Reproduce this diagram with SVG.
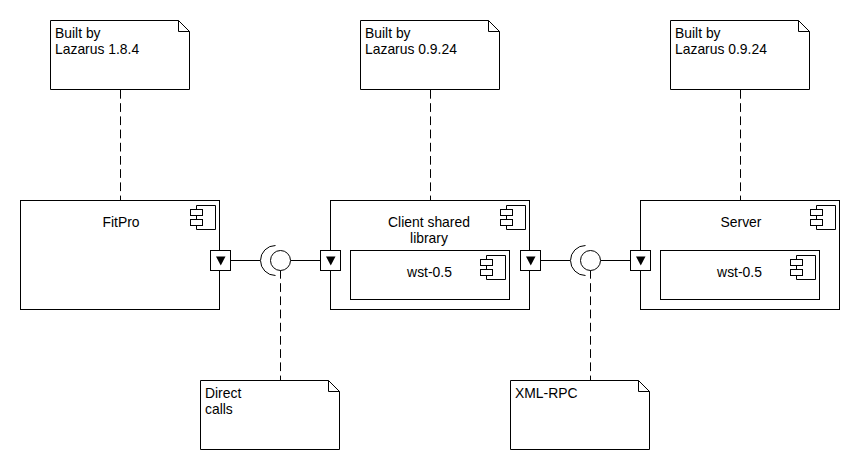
<svg xmlns="http://www.w3.org/2000/svg" width="860" height="470" viewBox="0 0 860 470">
<style>
.s{fill:#fff;stroke:#000;stroke-width:1}
.l{fill:none;stroke:#000;stroke-width:1}
.d{fill:none;stroke:#000;stroke-width:1;stroke-dasharray:8.700 4.500}
.t{font-family:"Liberation Sans",Arial,sans-serif;font-size:13.900px;fill:#000}
.m{text-anchor:middle}
</style>
<defs>
<g id="icon"><path class="s" d="M6 0H25V24H6Z"/><rect class="s" x="0" y="4" width="12" height="6"/><rect class="s" x="0" y="14" width="12" height="6"/></g>
<g id="port"><rect class="s" width="20" height="20"/><path d="M5.500 6H15L10.250 15Z" fill="#000"/></g>
<g id="note"><path class="s" d="M0 0H128L139 11V69H0Z"/><path class="l" d="M128 0V11H139"/></g>
</defs>
<rect width="860" height="470" fill="#fff"/>
<g id="connectors">
<path class="d" d="M120.500 90V200"/>
<path class="d" d="M430.500 90V200"/>
<path class="d" d="M740.500 90V200"/>
<path class="d" d="M280.500 270V380"/>
<path class="d" d="M590.500 270V380"/>
<path class="l" d="M230.500 260.500H260M290.500 260.500H320.500"/>
<path class="l" d="M540.500 260.500H570M600.500 260.500H630.500"/>
</g>
<g id="note-fitpro"><use href="#note" x="50.500" y="20.500"/><text class="t" x="55" y="38">Built by</text><text class="t" x="55" y="54">Lazarus 1.8.4</text></g>
<g id="note-client"><use href="#note" x="360.500" y="20.500"/><text class="t" x="365" y="38">Built by</text><text class="t" x="365" y="54">Lazarus 0.9.24</text></g>
<g id="note-server"><use href="#note" x="670.500" y="20.500"/><text class="t" x="675" y="38">Built by</text><text class="t" x="675" y="54">Lazarus 0.9.24</text></g>
<g id="fitpro"><rect class="s" x="20.500" y="200.500" width="199" height="109"/><use href="#icon" x="190.500" y="205.500"/><text class="t m" x="121" y="227">FitPro</text></g>
<g id="client"><rect class="s" x="330.500" y="200.500" width="199" height="109"/><use href="#icon" x="500.500" y="205.500"/><text class="t m" x="429" y="227">Client shared</text><text class="t m" x="429" y="243">library</text></g>
<g id="client-wst"><rect class="s" x="350.500" y="250.500" width="159" height="49"/><use href="#icon" x="480.500" y="255.500"/><text class="t m" x="429.500" y="277">wst-0.5</text></g>
<g id="server"><rect class="s" x="640.500" y="200.500" width="199" height="109"/><use href="#icon" x="810.500" y="205.500"/><text class="t m" x="741" y="227">Server</text></g>
<g id="server-wst"><rect class="s" x="660.500" y="250.500" width="159" height="49"/><use href="#icon" x="790.500" y="255.500"/><text class="t m" x="739.500" y="277">wst-0.5</text></g>
<g id="port-fitpro"><use href="#port" x="210.500" y="250.500"/></g>
<g id="port-client-left"><use href="#port" x="320.500" y="250.500"/></g>
<g id="port-client-right"><use href="#port" x="520.500" y="250.500"/></g>
<g id="port-server"><use href="#port" x="630.500" y="250.500"/></g>
<g id="interface-direct"><path class="l" d="M275.500 245.500A15 15 0 0 0 275.500 275.500"/><circle class="s" cx="280.500" cy="260.500" r="10"/></g>
<g id="interface-xmlrpc"><path class="l" d="M585.500 245.500A15 15 0 0 0 585.500 275.500"/><circle class="s" cx="590.500" cy="260.500" r="10"/></g>
<g id="note-direct"><use href="#note" x="200.500" y="380.500"/><text class="t" x="205" y="398">Direct</text><text class="t" x="205" y="414">calls</text></g>
<g id="note-xmlrpc"><use href="#note" x="510.500" y="380.500"/><text class="t" x="515" y="398">XML-RPC</text></g>
</svg>
